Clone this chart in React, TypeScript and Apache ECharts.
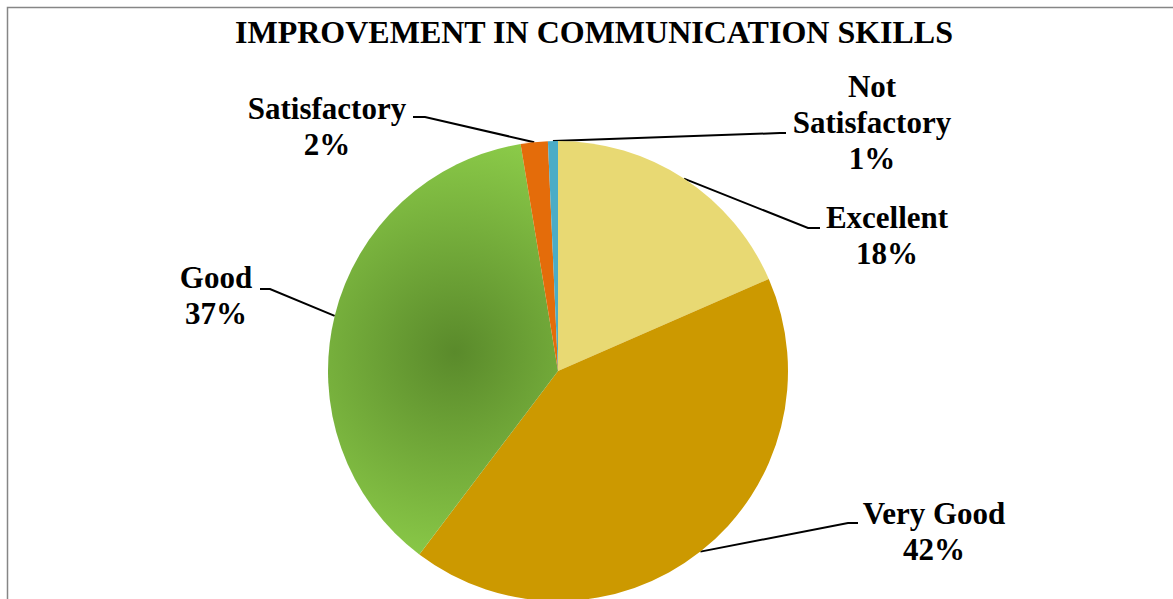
import React, { useEffect, useRef } from 'react';
import * as echarts from 'echarts';

const chartTitle = 'IMPROVEMENT IN COMMUNICATION SKILLS';
const categories = ['Excellent', 'Very Good', 'Good', 'Satisfactory', 'Not Satisfactory'];
// shares (%); labels show them rounded
const values = [18.45, 41.85, 37.1, 1.9, 0.7];

// styling / layout (not data)
const CX = 558;
const CY = 371;
const R = 230;
const FONT = '"Liberation Serif", "Times New Roman", serif';
// per label: [centerX, centerY, elbowX, elbowY, endX]
const labelPlacement = [
  [887, 235, 808, 228, 820],
  [934, 531, 848, 523, 858],
  [216, 295, 270, 289, 260],
  [327, 126, 425, 117, 413],
  [872, 122, 780, 133, 786],
];

const sliceColors: any[] = [
  '#E8D973',
  '#CC9900',
  {
    type: 'radial',
    x: 455,
    y: 352,
    r: 235,
    global: true,
    colorStops: [
      { offset: 0, color: '#5A8A2B' },
      { offset: 1, color: '#8FD04B' },
    ],
  },
  '#E46C0A',
  '#4BACC6',
];

export default function App() {
  const ref = useRef<HTMLDivElement>(null);
  useEffect(() => {
    if (!ref.current) return;
    const chart = echarts.init(ref.current, undefined, { renderer: 'svg' });
    const total = values.reduce((a, b) => a + b, 0);
    const cum: number[] = [];
    let acc = 0;
    values.forEach((v) => {
      cum.push(acc);
      acc += v;
    });
    const edgePoint = (i: number) => {
      const th = ((cum[i] + values[i] / 2) / total) * Math.PI * 2;
      return [CX + R * Math.sin(th), CY - R * Math.cos(th)];
    };
    chart.setOption({
      animation: false,
      backgroundColor: '#ffffff',
      title: {
        text: chartTitle,
        left: 589,
        top: 11,
        textAlign: 'center',
        textStyle: {
          fontFamily: FONT,
          fontWeight: 'bold',
          fontSize: 32,
          color: '#000000',
        },
      },
      graphic: [
        {
          type: 'rect',
          shape: { x: 7.5, y: 7.5, width: 1300, height: 800 },
          style: { fill: 'none', stroke: '#868686', lineWidth: 1.5 },
          silent: true,
        },
      ],
      series: [
        {
          type: 'pie',
          center: [CX, CY],
          radius: R,
          startAngle: 90,
          clockwise: true,
          avoidLabelOverlap: false,
          data: categories.map((name, i) => ({
            name,
            value: values[i],
            itemStyle: { color: sliceColors[i] },
          })),
          itemStyle: { borderWidth: 0 },
          label: {
            show: true,
            position: 'outside',
            fontFamily: FONT,
            fontWeight: 'bold',
            fontSize: 31,
            lineHeight: 36,
            color: '#000000',
            align: 'center',
            formatter: (p: any) =>
              p.name.replace('Not ', 'Not\n') + '\n' + Math.round(p.percent) + '%',
          },
          labelLine: {
            show: true,
            lineStyle: { color: '#000000', width: 2 },
          },
          labelLayout: (params: any) => {
            const i = params.dataIndex;
            const lp = labelPlacement[i];
            const p0 = edgePoint(i);
            return {
              x: lp[0],
              y: lp[1],
              align: 'center',
              verticalAlign: 'middle',
              labelLinePoints: [p0, [lp[2], lp[3]], [lp[4], lp[3]]],
            };
          },
        },
      ],
    });
    return () => chart.dispose();
  }, []);
  return (
    <div
      ref={ref}
      style={{ position: 'fixed', left: 0, top: 0, width: 1173, height: 599 }}
    />
  );
}
